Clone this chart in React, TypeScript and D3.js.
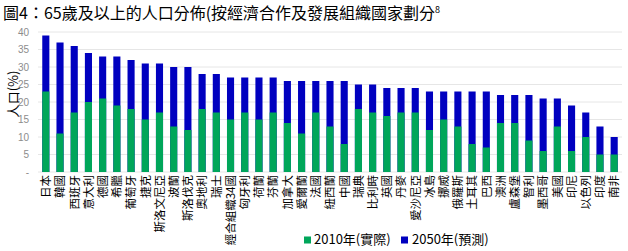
import React from "react";
import * as d3 from "d3";

const categories = ["日本","韓國","西班牙","意大利","德國","希臘","葡萄牙","捷克","斯洛文尼亞","波蘭","斯洛伐克","奧地利","瑞士","經合組織34國","匈牙利","荷蘭","芬蘭","加拿大","愛爾蘭","法國","紐西蘭","中國","瑞典","比利時","英國","丹麥","愛沙尼亞","冰島","挪威","俄羅斯","土耳其","巴西","澳洲","盧森堡","智利","墨西哥","美國","印尼","以色列","印度","南非"];
const values2010 = [23,11,17,20,21,19,18,15,17,13,12,18,17,15,17,15,17,14,11,17,13,8,18,17,16,17,17,12,15,13,8,7,14,14,9,6,13,6,10,5,5];
const values2050 = [39,37,36,34,33,33,32,31,31,30,30,28,28,27,27,27,27,26,26,26,26,26,25,25,24,24,24,23,23,23,23,23,22,22,22,21,21,19,17,13,10];
const yTicks = [0,5,10,15,20,25,30,35,40];
const seriesNames = ["2010年(實際)","2050年(預測)"];
const colors = ["#00a65a","#0000bf"];

const W = 628, H = 251;
const FONT = "'Noto Sans CJK TC', 'Noto Sans', sans-serif";

export default function App() {
  const x = d3.scaleBand<string>().domain(categories).range([38, 622]).paddingInner(0.5).paddingOuter(0.3);
  const y = d3.scaleLinear().domain([0, 40]).range([172, 32]);
  const bw = x.bandwidth();
  return (
    <svg width={W} height={H} style={{ position: "absolute", left: 0, top: 0, background: "#fff" }} fontFamily={FONT}>
      <text x={3} y={19} fontSize={16} fill="#000">
        圖4：65歲及以上的人口分佈(按經濟合作及發展組織國家劃分
        <tspan fontSize={9} dy={-6}>8</tspan>
      </text>
      {yTicks.map((t) => (
        <g key={t}>
          <line x1={38} x2={622} y1={y(t)} y2={y(t)} stroke="#e6e6e6" strokeWidth={1} />
          <text x={29} y={y(t)} dy="0.35em" textAnchor="end" fontSize={10} fill="#8c8c8c" fontFamily="'Liberation Sans', Arial, sans-serif">
            {t === 0 ? "-" : t}
          </text>
        </g>
      ))}
      <text transform={`translate(18,94) rotate(-90)`} textAnchor="middle" fontSize={13} fill="#000">人口(%)</text>
      {categories.map((c, i) => (
        <g key={c}>
          <rect x={x(c)} width={bw} y={y(values2050[i])} height={y(0) - y(values2050[i])} fill={colors[1]} />
          <rect x={x(c)} width={bw} y={y(values2010[i])} height={y(0) - y(values2010[i])} fill={colors[0]} />
          <text transform={`translate(${(x(c) as number) + bw / 2 + 4.3},175) rotate(-90)`} textAnchor="end" fontSize={11.5} fill="#000">{c}</text>
        </g>
      ))}
      <rect x={304} y={236.5} width={7} height={7} fill={colors[0]} />
      <text x={314} y={244} fontSize={13} fill="#000">{seriesNames[0]}</text>
      <rect x={401} y={236.5} width={7} height={7} fill={colors[1]} />
      <text x={412} y={244} fontSize={13} fill="#000">{seriesNames[1]}</text>
    </svg>
  );
}
